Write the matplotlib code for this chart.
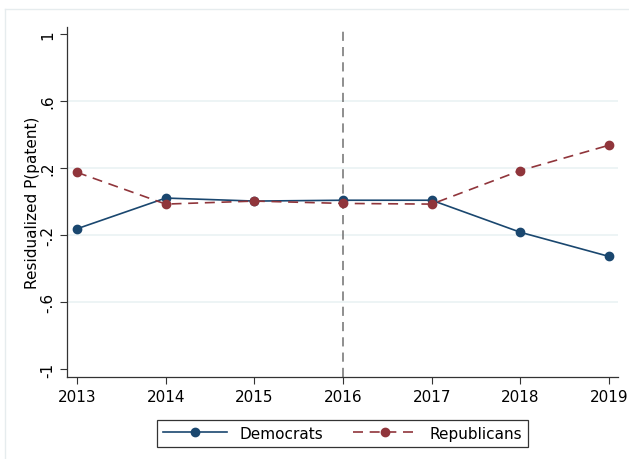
import numpy as np
import matplotlib.pyplot as plt
from matplotlib.lines import Line2D

plt.rcParams['font.family'] = 'DejaVu Sans'

# Residualized patenting probability by party, 2013-2019
years = [2013, 2014, 2015, 2016, 2017, 2018, 2019]
democrats = [-0.162, 0.021, 0.003, 0.008, 0.008, -0.183, -0.327]
republicans = [0.174, -0.015, 0.003, -0.011, -0.015, 0.185, 0.336]
yticks = [-1, -0.6, -0.2, 0.2, 0.6, 1]
yticklabels = ['-1', '-.6', '-.2', '.2', '.6', '1']
event_year = 2016

navy = '#1a476f'
maroon = '#90353b'

fig = plt.figure(figsize=(6.29, 4.60), dpi=100)
ax = fig.add_axes([67/629, 1 - 378/460, (618-67)/629, (378-28)/460])

# faint outer frame (top and left edges only are in view)
x0, y0 = 4.5/629, 1 - 9.5/460
fig.lines.append(Line2D([x0, 1], [y0, y0], transform=fig.transFigure, color='#e6ecee', lw=1))
fig.lines.append(Line2D([x0, x0], [0, y0], transform=fig.transFigure, color='#e6ecee', lw=1))

for yv in [-0.6, -0.2, 0.2, 0.6]:
    ax.axhline(yv, color='#eaf2f3', lw=1.2, zorder=0)

ax.axvline(event_year, color='#707070', lw=1.1, ls=(0, (6, 4)), zorder=1)

ax.plot(years, democrats, color=navy, lw=1.2, marker='o', ms=6, label='Democrats', zorder=3)
ax.plot(years, republicans, color=maroon, lw=1.2, ls=(0, (6, 4)), marker='o', ms=6,
        label='Republicans', zorder=3)

ax.set_xlim(2012.887, 2019.1)
ax.set_ylim(-1.045, 1.04)
ax.set_xticks(years)
ax.set_xticklabels([str(y) for y in years], fontsize=11)
ax.set_yticks(yticks)
ax.set_yticklabels(yticklabels, fontsize=11, rotation=90, va='center')
ax.set_ylabel('Residualized P(patent)', fontsize=11, labelpad=0)
ax.tick_params(length=5, width=0.8, color='#333333')
ax.spines['right'].set_visible(False)
ax.spines['top'].set_visible(False)
for s in ['left', 'bottom']:
    ax.spines[s].set_color('#333333')
    ax.spines[s].set_linewidth(0.9)

leg = ax.legend(loc='upper center', bbox_to_anchor=(0.5, -0.1), ncol=2, fontsize=11,
                frameon=True, fancybox=False, edgecolor='black', handlelength=4.2,
                columnspacing=2.0, borderpad=0.4)
leg.get_frame().set_linewidth(0.9)

fig.savefig('out.png', dpi=100)
